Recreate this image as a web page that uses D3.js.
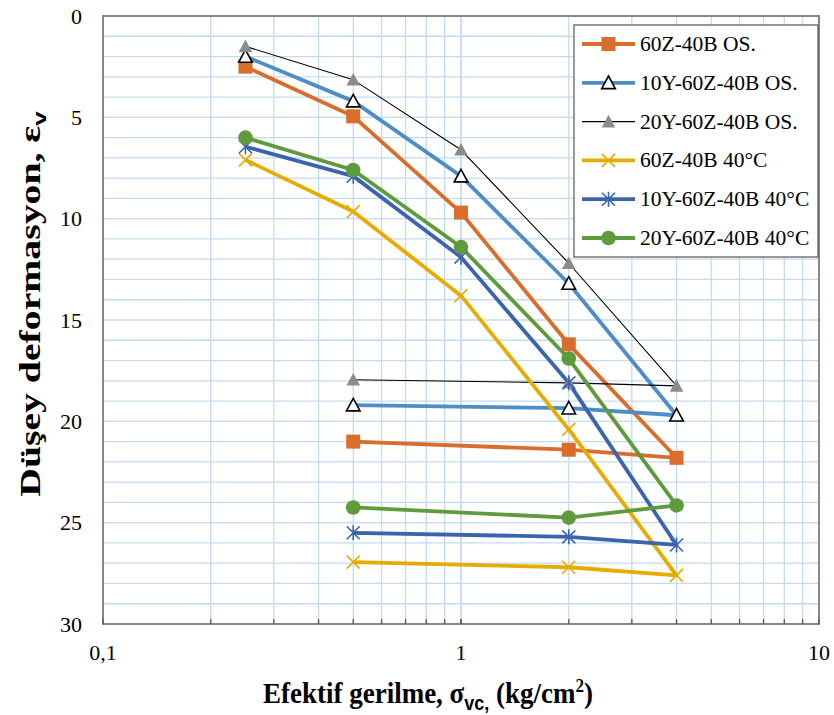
<!DOCTYPE html>
<html lang="en">
<head>
<meta charset="utf-8"/>
<style>
body { margin: 0; background: #fff; }
text { font-family: "Liberation Serif", "Times New Roman", serif; fill: #000; }
.grid line { stroke: #c3dbf0; stroke-width: 1.3; }
.axislbl { font-size: 22px; }
.title { font-weight: bold; }
.leg { font-size: 21.5px; }
</style>
</head>
<body>
<svg width="834" height="715"></svg>
<script src="https://d3js.org/d3.v7.min.js"></script>
<script>
// stress steps: loading then unloading
var stress = [0.25, 0.5, 1, 2, 4, 2, 0.5];

var s60os = [2.5, 4.95, 9.7, 16.2, 21.8, 21.4, 21.0];
var s10os = [2.0, 4.2, 7.9, 13.2, 19.7, 19.35, 19.2];
var s20os = [1.5, 3.15, 6.6, 12.2, 18.25, 18.1, 17.95];
var s60t = [7.1, 9.65, 13.8, 20.4, 27.6, 27.2, 26.95];
var s10t = [6.45, 7.9, 11.9, 18.1, 26.1, 25.7, 25.5];
var s20t = [6.0, 7.6, 11.4, 16.9, 24.15, 24.75, 24.25];

var names = ["60Z-40B OS.", "10Y-60Z-40B OS.", "20Y-60Z-40B OS.",
             "60Z-40B 40°C", "10Y-60Z-40B 40°C", "20Y-60Z-40B 40°C"];
var colors = ["#d86d2c", "#4f8dc6", "#000000", "#e6ad00", "#3b64ae", "#5f9b3c"];
var markerColors = ["#d86d2c", "#000000", "#8c8c8c", "#e6ad00", "#3b64ae", "#5f9b3c"];
var markers = ["square", "openTri", "tri", "x", "star", "circle"];
var widths = [3.8, 3.8, 1.1, 3.8, 3.8, 3.8];
var series = [s60os, s10os, s20os, s60t, s10t, s20t];

var yTicks = [0, 5, 10, 15, 20, 25, 30];
var xTicks = [0.1, 1, 10];
var xTickLabels = ["0,1", "1", "10"];

var svg = d3.select("svg");
var L = 103, R = 819, T = 16, B = 624;

var x = d3.scaleLog().domain([0.1, 10]).range([L, R]);
var y = d3.scaleLinear().domain([0, 30]).range([T, B]);

// grid
var minorX = [];
[0.1, 1].forEach(function(d) { for (var k = 1; k <= 10; k++) minorX.push(d * k); });
var grid = svg.append("g").attr("class", "grid");
grid.selectAll(".gy").data(d3.range(1, 30)).enter().append("line")
  .attr("x1", L).attr("x2", R)
  .attr("y1", function(d) { return y(d); }).attr("y2", function(d) { return y(d); });
grid.selectAll(".gx").data(minorX.filter(function(d) { return d > 0.1 && d < 10; })).enter().append("line")
  .attr("y1", T).attr("y2", B)
  .attr("x1", function(d) { return x(d); }).attr("x2", function(d) { return x(d); });

// frame
svg.append("rect").attr("x", L).attr("y", T).attr("width", R - L).attr("height", B - T)
  .attr("fill", "none").attr("stroke", "#878787").attr("stroke-width", 2);

// x ticks on bottom edge
svg.append("g").selectAll("line").data(minorX).enter().append("line")
  .attr("x1", function(d) { return x(d); }).attr("x2", function(d) { return x(d); })
  .attr("y1", B).attr("y2", B - 5).attr("stroke", "#555").attr("stroke-width", 1.3);

// tick labels
svg.append("g").selectAll("text").data(yTicks).enter().append("text")
  .attr("class", "axislbl").attr("text-anchor", "end")
  .attr("x", 82).attr("y", function(d) { return y(d) + 7.5; })
  .text(function(d) { return d; });
svg.append("g").selectAll("text").data(xTicks).enter().append("text")
  .attr("class", "axislbl").attr("text-anchor", "middle")
  .attr("x", function(d) { return x(d); }).attr("y", 660)
  .text(function(d, i) { return xTickLabels[i]; });

// axis titles (stretched like the source picture)
var xt = svg.append("text").attr("class", "title").attr("text-anchor", "middle")
  .attr("font-size", 27)
  .attr("transform", "translate(" + (x(1) - 33) + ",703) scale(1,1.1)");
xt.append("tspan").text("Efektif gerilme, σ");
xt.append("tspan").attr("dy", 6).attr("font-size", 18)
  .style("font-family", "'Liberation Sans', Arial, sans-serif").text("vc,");
xt.append("tspan").attr("dy", -6).text(" (kg/cm");
xt.append("tspan").attr("dy", -10).attr("font-size", 17).text("2");
xt.append("tspan").attr("dy", 10).text(")");

var yt = svg.append("text").attr("class", "title").attr("text-anchor", "middle")
  .attr("font-size", 29)
  .attr("transform", "translate(40," + 304 + ") rotate(-90) scale(1.37,1)");
yt.append("tspan").text("Düşey deformasyon, ε");
yt.append("tspan").attr("dy", 6).attr("font-size", 19)
  .style("font-family", "'Liberation Sans', Arial, sans-serif").text("v");

function drawMarker(g, type, cx, cy, col) {
  if (type === "square") {
    g.append("rect").attr("x", cx - 7).attr("y", cy - 7).attr("width", 14).attr("height", 14).attr("fill", col);
  } else if (type === "openTri" || type === "tri") {
    var s = 6.8;
    g.append("path").attr("d", "M" + cx + "," + (cy - s) + "L" + (cx + s) + "," + (cy + s * 0.85) + "L" + (cx - s) + "," + (cy + s * 0.85) + "Z")
      .attr("fill", type === "tri" ? col : "#fff")
      .attr("stroke", type === "tri" ? "none" : col).attr("stroke-width", 1.6);
  } else if (type === "circle") {
    g.append("circle").attr("cx", cx).attr("cy", cy).attr("r", 7.3).attr("fill", col);
  } else if (type === "x" || type === "star") {
    var r = 6.5;
    g.append("path").attr("d", "M" + (cx - r) + "," + (cy - r) + "L" + (cx + r) + "," + (cy + r) + "M" + (cx - r) + "," + (cy + r) + "L" + (cx + r) + "," + (cy - r) +
      (type === "star" ? "M" + cx + "," + (cy - r - 1) + "L" + cx + "," + (cy + r + 1) : ""))
      .attr("stroke", col).attr("stroke-width", 1.6).attr("fill", "none");
  }
}

var line = d3.line()
  .x(function(d, i) { return x(stress[i]); })
  .y(function(d) { return y(d); });

var plot = svg.append("g");
series.forEach(function(s, k) {
  plot.append("path").datum(s).attr("d", line)
    .attr("fill", "none").attr("stroke", colors[k]).attr("stroke-width", widths[k])
    .attr("stroke-linejoin", "round");
});
series.forEach(function(s, k) {
  var g = plot.append("g");
  s.forEach(function(v, i) { drawMarker(g, markers[k], x(stress[i]), y(v), markerColors[k]); });
});

// legend
var lg = svg.append("g");
lg.append("rect").attr("x", 574).attr("y", 25).attr("width", 244).attr("height", 232)
  .attr("fill", "#fff").attr("stroke", "#555").attr("stroke-width", 1.2);
names.forEach(function(n, k) {
  var ly = 44 + k * 38.8;
  lg.append("line").attr("x1", 582).attr("x2", 635).attr("y1", ly).attr("y2", ly)
    .attr("stroke", colors[k]).attr("stroke-width", widths[k]);
  drawMarker(lg, markers[k], 608.5, ly, markerColors[k]);
  lg.append("text").attr("class", "leg").attr("x", 640).attr("y", ly + 7).text(n);
});
</script>
</body>
</html>
